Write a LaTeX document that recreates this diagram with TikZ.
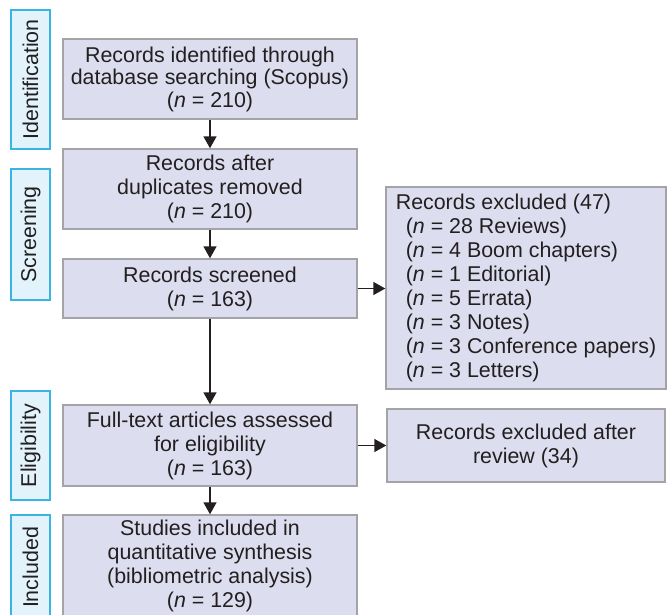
\documentclass[tikz,border=0pt]{standalone}
\usepackage{fontspec}
\setmainfont{Liberation Sans}
\usetikzlibrary{arrows.meta}
\definecolor{boxfill}{HTML}{DCDEEF}
\definecolor{boxborder}{HTML}{A3A3A8}
\definecolor{labfill}{HTML}{E2F3FB}
\definecolor{labborder}{HTML}{3AB4E6}
\definecolor{txt}{HTML}{231F20}
\newcommand{\fsz}{\fontsize{21.4}{24}\selectfont}
\tikzset{
  flowbox/.style={draw=boxborder, fill=boxfill, line width=1.4pt, minimum width=294pt,
    align=center, inner sep=0pt, text=txt, font=\fsz},
  stagelab/.style={draw=labborder, fill=labfill, line width=1.4pt, minimum height=39pt,
    inner sep=0pt, text=txt, font=\fsz, rotate=90},
  arr/.style={draw=txt, line width=1.4pt, -{Triangle[width=13pt,length=12pt]}}
}
\begin{document}
\begin{tikzpicture}[x=1pt,y=-1pt]
\useasboundingbox (0,0) rectangle (667,614);
\clip (0,0) rectangle (667,614);
% stage labels
\node[stagelab, minimum width=139pt] (lid) at (30.5,79.5) {Identification};
\node[stagelab, minimum width=131pt] (lsc) at (30.5,234.5) {Screening};
\node[stagelab, minimum width=109pt] (lel) at (30.5,445.5) {Eligibility};
\node[stagelab, minimum width=105pt] (lin) at (30.5,567.5) {Included};
% main boxes
\node[flowbox, minimum height=80pt, font=\fontsize{21.4}{22.5}\selectfont] (b1) at (210,79) {Records identified through\\database searching (Scopus)\\(\textit{n} = 210)};
\node[flowbox, minimum height=80pt] (b2) at (210,189) {Records after\\duplicates removed\\(\textit{n} = 210)};
\node[flowbox, minimum height=59pt] (b3) at (210,288.5) {Records screened\\(\textit{n} = 163)};
\node[flowbox, minimum height=81pt] (b4) at (210,445.5) {Full-text articles assessed\\for eligibility\\(\textit{n} = 163)};
\node[flowbox, minimum height=101pt] (b5) at (210,565.5) {Studies included in\\quantitative synthesis\\(bibliometric analysis)\\(\textit{n} = 129)};
% exclusion boxes
\node[flowbox, minimum width=280pt, minimum height=202pt, align=left] (e1) at (526,288)
{Records excluded (47)\\
\hspace*{10pt}(\textit{n} = 28 Reviews)\\
\hspace*{10pt}(\textit{n} = 4 Boom chapters)\\
\hspace*{10pt}(\textit{n} = 1 Editorial)\\
\hspace*{10pt}(\textit{n} = 5 Errata)\\
\hspace*{10pt}(\textit{n} = 3 Notes)\\
\hspace*{10pt}(\textit{n} = 3 Conference papers)\\
\hspace*{10pt}(\textit{n} = 3 Letters)};
\node[flowbox, minimum width=278pt, minimum height=73pt] (e2) at (526,445.5) {Records excluded after\\review (34)};
% connectors
\draw[arr] (b1.south) -- (b2.north);
\draw[arr] (b2.south) -- (b3.north);
\draw[arr] (b3.south) -- (b4.north);
\draw[arr] (b4.south) -- (b5.north);
\draw[arr] (b3.east) -- (b3.east -| e1.west);
\draw[arr] (b4.east) -- (b4.east -| e2.west);
\end{tikzpicture}
\end{document}
